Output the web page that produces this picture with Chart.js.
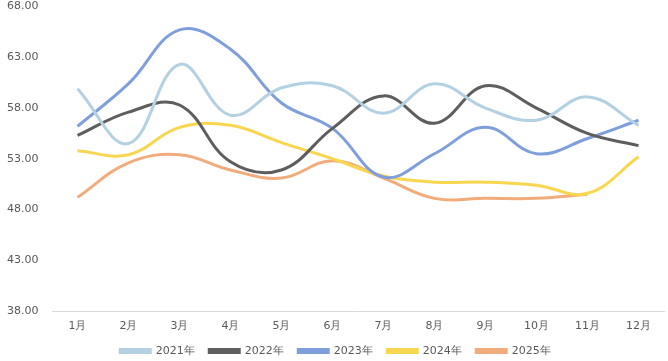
<!DOCTYPE html>
<html>
<head>
<meta charset="utf-8">
<script src="https://cdn.jsdelivr.net/npm/chart.js@4"></script>
<style>
  html, body { margin: 0; padding: 0; background: #fff; }
  #wrap { width: 668px; height: 361px; }
</style>
</head>
<body>
<div id="wrap"><canvas id="lineChart"></canvas></div>
<script>
  const months = ["1月", "2月", "3月", "4月", "5月", "6月", "7月", "8月", "9月", "10月", "11月", "12月"];
  const data2021 = [59.9, 54.5, 62.3, 57.3, 60.0, 60.2, 57.5, 60.4, 58.0, 56.8, 59.1, 56.3];
  const data2022 = [55.3, 57.6, 58.3, 52.7, 51.9, 56.0, 59.2, 56.5, 60.2, 58.0, 55.5, 54.3];
  const data2023 = [56.2, 60.4, 65.7, 63.8, 58.5, 56.0, 51.2, 53.5, 56.1, 53.5, 55.0, 56.8];
  const data2024 = [53.8, 53.4, 56.1, 56.3, 54.6, 53.0, 51.3, 50.7, 50.7, 50.4, 49.6, 53.2];
  const data2025 = [49.2, 52.6, 53.4, 51.9, 51.1, 52.8, 51.1, 49.1, 49.1, 49.1, 49.5, null];
  const yTicks = [38, 43, 48, 53, 58, 63, 68];

  function line(label, data, color) {
    return {
      label: label,
      data: data,
      borderColor: color,
      backgroundColor: color,
      borderWidth: 3,
      pointRadius: 0,
      tension: 0.4,
      fill: false,
    };
  }

  new Chart(document.getElementById("lineChart").getContext("2d"), {
    type: "line",
    data: {
      labels: months,
      datasets: [
        line("2021年", data2021, "#b3d1e3"),
        line("2022年", data2022, "#5e5e5e"),
        line("2023年", data2023, "#7f9edc"),
        line("2024年", data2024, "#f8d650"),
        line("2025年", data2025, "#f2ac7c"),
      ],
    },
    options: {
      responsive: true,
      maintainAspectRatio: false,
      animation: false,
      layout: { padding: { top: 0, right: 4, left: 7, bottom: -5.5 } },
      plugins: {
        legend: {
          position: "bottom",
          labels: {
            boxWidth: 30,
            boxHeight: 3,
            padding: 14.5,
            color: "#595959",
            font: { family: "DejaVu Sans", size: 11 },
          },
        },
        tooltip: { enabled: false },
      },
      scales: {
        x: {
          offset: true,
          grid: { display: false, drawTicks: false },
          border: { color: "#d9d9d9" },
          ticks: { color: "#595959", padding: 9, font: { family: "DejaVu Sans", size: 11 }, maxRotation: 0 },
          afterFit: (axis) => { axis.height = 20; },
        },
        y: {
          min: 38,
          max: 68,
          afterBuildTicks: (axis) => { axis.ticks = yTicks.map((v) => ({ value: v })); },
          afterFit: (axis) => { axis.width = 45; },
          grid: { display: false, drawTicks: false },
          border: { display: false },
          ticks: {
            color: "#595959",
            font: { family: "DejaVu Sans", size: 11 },
            padding: 0,
            crossAlign: "far",
            callback: (v) => v.toFixed(2),
          },
        },
      },
    },
  });
</script>
</body>
</html>
